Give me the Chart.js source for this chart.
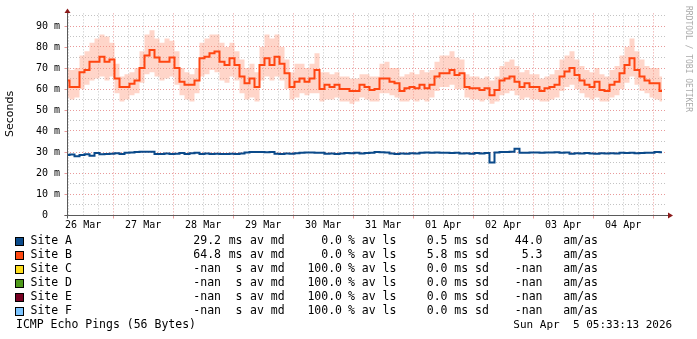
<!DOCTYPE html>
<html><head><meta charset="utf-8">
<script src="https://cdn.jsdelivr.net/npm/chart.js@4/dist/chart.umd.min.js"></script>
<style>html,body{margin:0;padding:0;background:#fff;}canvas{display:block;}</style>
</head><body>
<canvas id="c" width="697" height="339"></canvas>
<script>
// ---- data (2-hour samples starting Thu 26 Mar 05:33) ----
const sampleStepHours = 2;
const siteAMedian = [
 28.6,28.8,28.0,28.6,28.9,28.2,29.5,28.9,29.0,29.2,
 29.4,29.1,29.6,29.8,30.0,30.1,30.1,30.1,29.0,29.1,
 29.3,29.0,29.2,29.5,29.0,29.4,29.6,29.1,29.3,29.0,
 29.2,29.1,29.0,29.2,29.1,29.3,29.8,30.0,30.0,30.0,
 29.9,30.0,29.2,29.1,29.3,29.2,29.4,29.7,29.8,29.8,
 29.6,29.7,29.2,29.3,29.1,29.3,29.5,29.4,29.6,29.3,
 29.5,29.6,30.0,29.9,29.8,29.3,29.1,29.3,29.2,29.4,
 29.3,29.6,29.8,29.7,29.8,29.6,29.7,29.5,29.6,29.3,
 29.4,29.2,29.5,29.3,29.5,25.0,29.8,30.0,30.0,30.1,
 31.5,29.6,29.7,29.8,29.8,29.7,29.8,29.8,29.9,29.7,
 29.8,29.2,29.4,29.3,29.5,29.3,29.2,29.4,29.3,29.4,
 29.3,29.7,29.5,29.6,29.4,29.5,29.6,29.7,30.0,29.9];
const siteBMedian = [
 64,61,61,68,69,73,73,75.4,73,74,
 65,61,61,62.5,64,70,76,78.6,75,73,
 73,75,70,63.5,62,62,64,74.6,75.4,77,
 77.8,73,71.4,74.6,71.4,66,62.7,65,61,71.4,
 74.6,71.4,75.4,72,67.5,61,63.5,65,63.5,65,
 69,60,62,61,62,60,60,59,59,62,
 61,59.5,60,65,65,63.5,62.7,59,60.3,61,
 60.3,62,60.3,62,66,67.5,67.5,69,66.7,67.5,
 61,60.3,60.3,59.5,60.3,57,59.5,64,65,66,
 63.5,61,62.7,61,61,59,60.3,61,62,66,
 68.3,70,66.7,64,62,61,63.5,59.5,59,62,
 63.5,67.5,71.4,74.6,69,66,64,62.7,62.7,59];
const siteBSmokeHigh = [
 70,69,70,76,78,82,84,86,85,82,
 72,66,67,68,70,78,86,88,84,82,
 84,83,78,70,68,67,70,82,84,86,
 86,82,80,82,78,74,70,72,68,80,
 86,84,86,80,74,68,72,72,70,72,
 77,68,68,67,68,66,66,65,65,67,
 67,66,66,72,73,70,70,66,67,68,
 67,69,68,69,73,76,76,78,75,74,
 67,66,66,65,66,64,66,71,73,74,
 71,68,69,67,67,65,66,67,69,74,
 76,78,74,71,69,68,70,67,66,69,
 71,76,80,84,78,74,71,70,70,66];
const siteBSmokeLow = [
 56,55,56,60,62,64,65,66,64,66,
 58,54,55,57,58,63,67,68,66,64,
 65,66,62,57,55,54,58,66,67,69,
 68,64,63,66,64,58,55,56,54,64,
 66,64,66,64,60,55,56,58,57,58,
 58,54,55,55,56,54,54,53,54,56,
 55,54,54,58,58,57,56,54,54,55,
 54,55,54,56,59,61,61,62,60,60,
 56,55,55,54,55,53,54,57,58,59,
 57,55,56,55,55,54,54,55,56,59,
 61,62,60,58,56,55,56,54,54,56,
 57,60,63,66,62,59,58,56,55,54];
const dayLabels = ['26 Mar','27 Mar','28 Mar','29 Mar','30 Mar','31 Mar','01 Apr','02 Apr','03 Apr','04 Apr'];
const yTickValues = [0,10,20,30,40,50,60,70,80,90];
const yTickLabels = ['0  ','10 m','20 m','30 m','40 m','50 m','60 m','70 m','80 m','90 m'];
const legendNames = ['Site A','Site B','Site C','Site D','Site E','Site F'];
const legendMedian = ['29.2','64.8','-nan','-nan','-nan','-nan'];
const legendMedianUnit = ['ms','ms','s','s','s','s'];
const legendLoss = ['0.0','0.0','100.0','100.0','100.0','100.0'];
const legendSd = ['0.5','5.8','0.0','0.0','0.0','0.0'];
const legendAmAs = ['44.0','5.3','-nan','-nan','-nan','-nan'];
const footerLeft = 'ICMP Echo Pings (56 Bytes)';
const footerRight = 'Sun Apr  5 05:33:13 2026';
const yAxisTitle = 'Seconds';
const watermark = 'RRDTOOL / TOBI OETIKER';

// ---- styles ----
const legendColors = ['#0b4a8a','#ff4a12','#ffde1e','#4f9a1b','#780022','#7cc4ff'];
const firstGridHour = 0.45;   // 06:00 on 26 Mar
const firstNoonHour = 6.45;
const firstMidnightHour = 18.45;
const MAJOR = 'rgba(226,120,120,0.75)';
const MINOR = 'rgba(170,170,170,0.7)';
const MONO = "'DejaVu Sans Mono', monospace";

function pts(arr){ return arr.map((v,i)=>({x:i*sampleStepHours, y:v})); }
function isMult(v, base, step){ const k=(v-base)/step; return Math.abs(k-Math.round(k))<1e-6; }

const decor = {
  id:'decor',
  afterDraw(chart){
    const ctx = chart.ctx, ca = chart.chartArea, xs = chart.scales.x, ys = chart.scales.y;
    const L = Math.round(ca.left)+0.5, B = Math.round(ca.bottom)+0.5;
    ctx.save();
    ctx.lineWidth = 1;
    // small ticks
    ctx.strokeStyle = MAJOR;
    for (const v of yTickValues){ const y=Math.round(ys.getPixelForValue(v))+0.5; ctx.beginPath(); ctx.moveTo(L-3,y); ctx.lineTo(L,y); ctx.stroke(); }
    for (let h=firstMidnightHour; h<=xs.max; h+=24){ const x=Math.round(xs.getPixelForValue(h))+0.5; ctx.beginPath(); ctx.moveTo(x,B); ctx.lineTo(x,B+3); ctx.stroke(); }
    // axes
    ctx.strokeStyle = '#5a5a5a';
    ctx.beginPath(); ctx.moveTo(L, B+3); ctx.lineTo(L, ca.top-1); ctx.stroke();
    ctx.beginPath(); ctx.moveTo(L-3, B); ctx.lineTo(ca.right+1, B); ctx.stroke();
    ctx.fillStyle = '#8b1a1a';
    ctx.beginPath(); ctx.moveTo(L-3, ca.top-0.5); ctx.lineTo(L+3, ca.top-0.5); ctx.lineTo(L, ca.top-5); ctx.closePath(); ctx.fill();
    ctx.beginPath(); ctx.moveTo(ca.right+1, B-3); ctx.lineTo(ca.right+1, B+3); ctx.lineTo(ca.right+6, B); ctx.closePath(); ctx.fill();
    // y title
    ctx.fillStyle = '#000';
    ctx.font = "11px 'DejaVu Sans'";
    ctx.textAlign='center'; ctx.textBaseline='middle';
    ctx.save(); ctx.translate(10, 114); ctx.rotate(-Math.PI/2); ctx.fillText(yAxisTitle,0,0); ctx.restore();
    // watermark
    ctx.save(); ctx.fillStyle='#aaaaaa'; ctx.font = "8px " + MONO; ctx.translate(688, 59); ctx.rotate(Math.PI/2); ctx.fillText(watermark,0,0); ctx.restore();
    // legend
    ctx.font = "11.5px " + MONO;
    ctx.textBaseline = 'middle';
    for (let i=0;i<legendNames.length;i++){
      const y = 241.5 + 14*i;
      ctx.fillStyle = legendColors[i];
      ctx.fillRect(15.5, y-4, 8, 8);
      ctx.strokeStyle = '#000'; ctx.strokeRect(15.5, y-4, 8, 8);
      ctx.fillStyle = '#000';
      ctx.textAlign='left';
      ctx.fillText(legendNames[i], 30.5, y);
      ctx.fillText(legendMedian[i], 193.3, y);
      ctx.textAlign='right'; ctx.fillText(legendMedianUnit[i], 242.5, y);
      ctx.textAlign='left'; ctx.fillText('av md', 250, y);
      ctx.textAlign='right'; ctx.fillText(legendLoss[i], 342, y);
      ctx.textAlign='left'; ctx.fillText('% av ls', 348, y);
      ctx.textAlign='right'; ctx.fillText(legendSd[i], 447.5, y);
      ctx.textAlign='left'; ctx.fillText('ms sd', 454.3, y);
      ctx.textAlign='right'; ctx.fillText(legendAmAs[i], 542.5, y);
      ctx.textAlign='left'; ctx.fillText('am/as', 563.3, y);
    }
    ctx.textAlign='left';
    ctx.fillText(footerLeft, 16, 325.5);
    ctx.font = "11px " + MONO;
    ctx.fillText(footerRight, 513.3, 325.5);
    ctx.restore();
  }
};

new Chart(document.getElementById('c'), {
  type:'line',
  data:{ datasets:[
    { label:'Site A', data:pts(siteAMedian), borderColor:'#0b4a8a', borderWidth:2, pointRadius:0, stepped:'middle', fill:false },
    { label:'Site B', data:pts(siteBMedian), borderColor:'#ff4511', borderWidth:2, pointRadius:0, stepped:'middle', fill:false },
    { label:'smoke hi', data:pts(siteBSmokeHigh), borderWidth:0, borderColor:'rgba(0,0,0,0)', pointRadius:0, stepped:'middle', fill:false },
    { label:'smoke lo', data:pts(siteBSmokeLow), borderWidth:0, borderColor:'rgba(0,0,0,0)', pointRadius:0, stepped:'middle', fill:'-1', backgroundColor:'rgba(255,150,120,0.4)' }
  ]},
  options:{
    responsive:false, animation:false, devicePixelRatio:1,
    layout:{ padding:{ left:0, right:30, top:13.4, bottom:100 } },
    plugins:{ legend:{display:false}, tooltip:{enabled:false} },
    scales:{
      x:{ type:'linear', min:0, max:240,
        afterBuildTicks(s){ const t=[]; for(let h=firstGridHour; h<=240; h+=6) t.push({value:h}); s.ticks=t; },
        afterFit(s){ s.height = 24; },
        grid:{ drawTicks:false, color:(c)=> isMult(c.tick.value, firstMidnightHour, 24) ? MAJOR : MINOR, borderDash:[1,2] },
        border:{ display:false, dash:[1,2] },
        ticks:{ autoSkip:false, maxRotation:0, padding:4, color:'#000', font:{family:MONO, size:10},
          callback:(v)=>{ if(!isMult(v, firstNoonHour, 24)) return ''; const k=Math.round((v-firstNoonHour)/24); return dayLabels[k]||''; } }
      },
      y:{ type:'linear', min:0, max:96,
        afterBuildTicks(s){ const t=[]; for(let v=0; v<=95; v+=5) t.push({value:v}); s.ticks=t; },
        afterFit(s){ s.width = 67; },
        grid:{ drawTicks:false, color:(c)=> (c.tick.value%10===0 ? MAJOR : MINOR), borderDash:[1,2] },
        border:{ display:false, dash:[1,2] },
        ticks:{ autoSkip:false, padding:7, color:'#000', font:{family:MONO, size:10},
          callback:(v)=>{ const k=yTickValues.indexOf(v); return k>=0 ? yTickLabels[k] : ''; } }
      }
    }
  },
  plugins:[decor]
});
</script>
</body></html>
